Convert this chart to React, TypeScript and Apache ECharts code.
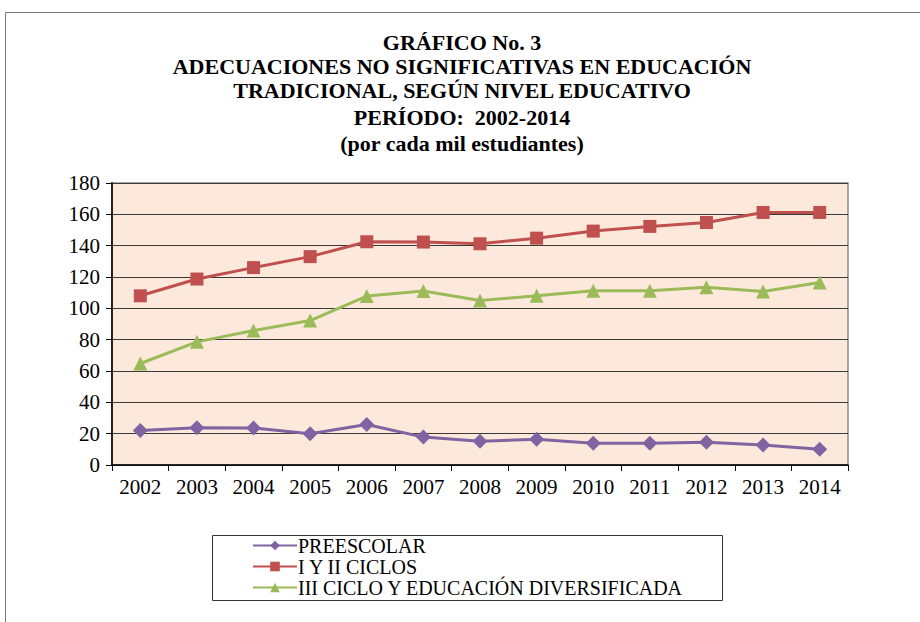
import React, { useEffect, useRef } from "react";
import * as echarts from "echarts";

const years = ["2002", "2003", "2004", "2005", "2006", "2007", "2008", "2009", "2010", "2011", "2012", "2013", "2014"];
const preescolar = [22, 23.8, 23.6, 20, 25.8, 17.8, 15.1, 16.4, 13.9, 13.9, 14.5, 12.8, 10];
const ciclosIyII = [108, 118.7, 126, 133, 142.5, 142.3, 141.2, 144.8, 149.3, 152.3, 154.8, 161.2, 161.2];
const cicloIIIDiv = [64.8, 78.6, 85.8, 92.2, 107.8, 111, 105, 108, 111.2, 111.2, 113.5, 110.7, 116.5];
const seriesNames = ["PREESCOLAR", "I Y II CICLOS", "III CICLO Y EDUCACIÓN DIVERSIFICADA"];
const titleLines = [
  "GRÁFICO No. 3",
  "ADECUACIONES NO SIGNIFICATIVAS EN EDUCACIÓN",
  "TRADICIONAL, SEGÚN NIVEL EDUCATIVO",
  "PERÍODO:  2002-2014",
  "(por cada mil estudiantes)",
];

const SERIF = "Times New Roman, Liberation Serif, serif";

export default function App() {
  const ref = useRef<HTMLDivElement>(null);
  useEffect(() => {
    if (!ref.current) return;
    const chart = echarts.init(ref.current, null, { renderer: "svg" });
    const titleY = [42, 66, 90, 117, 143];
    const titleGraphics = titleLines.map((t, i) => ({
      type: "text",
      x: 462,
      y: titleY[i],
      style: {
        text: t,
        fontFamily: SERIF,
        fontWeight: "bold",
        fontSize: 22,
        fill: "#000",
        align: "center",
        verticalAlign: "middle",
      },
    }));
    chart.setOption({
      animation: false,
      backgroundColor: "#fff",
      textStyle: { fontFamily: SERIF },
      graphic: [
        {
          type: "rect",
          shape: { x: 5.5, y: 12.5, width: 940, height: 640 },
          style: { fill: "none", stroke: "#777", lineWidth: 1 },
          silent: true,
        },
        {
          type: "rect",
          shape: { x: 212.5, y: 535.5, width: 510, height: 65 },
          style: { fill: "none", stroke: "#333", lineWidth: 1 },
          silent: true,
        },
        ...titleGraphics,
      ],
      grid: {
        left: 112,
        top: 183,
        right: 72,
        bottom: 157,
        show: true,
        backgroundColor: "#FCE9DB",
        borderColor: "#888",
        borderWidth: 1.5,
      },
      legend: {
        orient: "vertical",
        left: 252,
        top: 535,
        itemWidth: 44,
        itemHeight: 12,
        itemGap: 0,
        padding: 0,
        data: seriesNames,
        textStyle: { fontFamily: SERIF, fontSize: 20, lineHeight: 21, color: "#000", padding: [0, 0, 0, -4] },
      },
      xAxis: {
        type: "category",
        data: years,
        boundaryGap: true,
        axisLine: { lineStyle: { color: "#000", width: 1.5 } },
        axisTick: { show: true, length: 6, lineStyle: { color: "#000" } },
        axisLabel: { fontFamily: SERIF, fontSize: 21, color: "#000", margin: 11 },
      },
      yAxis: {
        type: "value",
        min: 0,
        max: 180,
        interval: 20,
        axisLine: { show: true, lineStyle: { color: "#222", width: 2 } },
        axisTick: { show: true, length: 6, lineStyle: { color: "#000" } },
        axisLabel: { fontFamily: SERIF, fontSize: 21, color: "#000", margin: 12 },
        splitLine: { lineStyle: { color: "#3a3a3a", width: 1 } },
      },
      series: [
        {
          name: seriesNames[0],
          type: "line",
          data: preescolar,
          symbol: "diamond",
          symbolSize: 15,
          color: "#8064A2",
          lineStyle: { width: 3, color: "#8064A2" },
          itemStyle: { color: "#8064A2" },
        },
        {
          name: seriesNames[1],
          type: "line",
          data: ciclosIyII,
          symbol: "rect",
          symbolSize: 13,
          color: "#C0504D",
          lineStyle: { width: 3, color: "#C0504D" },
          itemStyle: { color: "#C0504D" },
        },
        {
          name: seriesNames[2],
          type: "line",
          data: cicloIIIDiv,
          symbol: "triangle",
          symbolSize: 14,
          color: "#9BBB59",
          lineStyle: { width: 3, color: "#9BBB59" },
          itemStyle: { color: "#9BBB59" },
        },
      ],
    });
    return () => chart.dispose();
  }, []);
  return (
    <div
      ref={ref}
      style={{ position: "fixed", left: 0, top: 0, width: 920, height: 622 }}
    />
  );
}
